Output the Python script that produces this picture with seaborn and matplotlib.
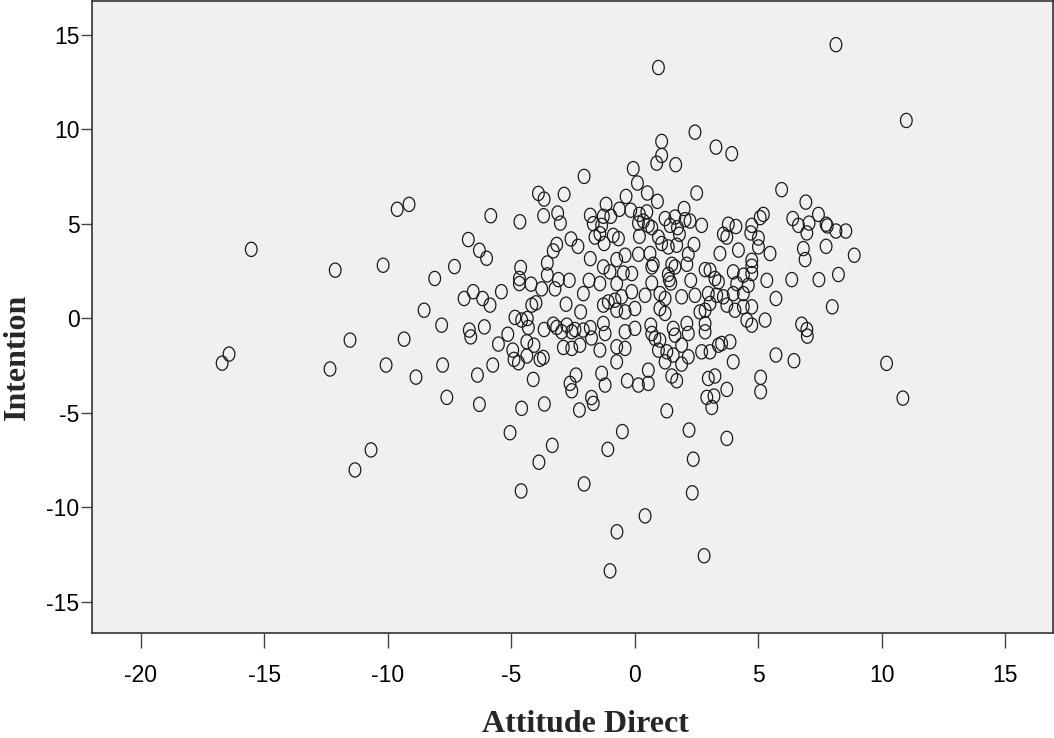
import numpy as np
import pandas as pd
import matplotlib
matplotlib.use("Agg")
import matplotlib.pyplot as plt
from matplotlib.path import Path
import seaborn as sns

x_label = "Attitude Direct"
y_label = "Intention"
x_ticks = [-20, -15, -10, -5, 0, 5, 10, 15]
y_ticks = [-15, -10, -5, 0, 5, 10, 15]

attitude = [
    -2.05, -3.9, -3.67, -2.86, -5.83, -4.65, -3.69, -3.12, -3.01, -1.8,
    -6.74, -6.29, -6.0, -7.3, -8.1, -3.16, -3.3, -2.58, -2.3, -3.54,
    -4.62, -3.54, -4.67, -4.67, -4.2, -3.09, -2.65, -1.8, -1.85, -6.54,
    -5.4, -3.77, -3.23,
    -6.91, -6.16, -5.86, -4.17, -4.0, -2.78, -2.19, -2.08, -7.82, -6.7,
    -6.64, -6.09, -4.85, -4.58, -4.35, -4.31, -5.14, -5.52, -4.37, -4.08,
    -4.94, -4.89, -4.71, -4.37, -3.84, -3.7, -3.67, -3.3, -3.16, -2.96,
    -2.75, -2.55, -2.42, -2.08, -1.8, -2.89, -2.55, -2.22, -1.75, -7.78,
    -6.37, -5.75, -4.11, -2.38, -2.62, -2.55, -7.61, -6.29, -4.58, -3.66,
    -2.24, -1.75, -5.05, -3.34, -3.88,
    2.44, 1.09, 3.29, 3.93, 1.09, 0.89, 1.66, -0.06, 0.11, 2.51,
    0.51, -0.35, 0.92, -1.16, -0.62, -0.16, 0.19, 0.49, -1.27, -0.97,
    2.0, 1.23, 1.63, 2.04, 2.24, 2.71, 0.15, 0.35, 0.55, 0.69,
    1.43, 1.73, 1.81, 3.79, 4.1, 3.59, 3.73, -1.68, -1.34, -1.41,
    -1.61, -1.24, -0.87, -0.66, 0.19, 0.96, 1.09, 1.36, 1.7, 2.4,
    3.45, 4.2, 2.17, 0.15, -0.39, -0.73, 0.62, 0.75, 0.69, 1.5,
    2.11, 1.63, 2.85, 3.05, 3.99, -1.27, -0.12, -1.0, -0.46, 1.36,
    1.4, 1.46, 2.27, 3.25, 3.39, 4.13, -1.41, -0.73, 0.69, -0.12,
    -1.27, -1.07, -0.8, -0.53, -0.73, -0.39, 0.01, 0.42, 1.02, 1.23,
    1.02, 1.23, 1.9, 2.44, 2.98, 3.32, 3.59, 3.99, 2.64, 2.85,
    3.05, 3.73, 4.06, -1.27, -1.2, -0.39, 0.01, 0.65, 0.69, 0.82,
    1.02, 1.56, 1.63, 2.11, 2.17, 2.85, 2.85, -1.41, -0.73, -0.39,
    0.96, 1.3, 1.56, 1.9, -0.73, 1.23, 1.9, 2.17, 2.71, 3.05,
    3.39, 3.52, 3.86, 3.99, -1.34, -1.2, 0.55, 0.55, 0.15, -0.3,
    1.5, 1.7, 2.98, 3.25, 3.73, 2.92, 3.21, 3.12, -1.68, 1.3,
    -0.5, 2.2, 3.73, -1.09, 2.37,
    5.95, 6.93, 5.21, 5.08, 4.74, 4.7, 6.4, 6.63, 7.06, 7.44,
    7.75, 7.8, 8.15, 8.55, 6.97, 5.01, 5.01, 5.48, 6.83, 6.9,
    7.75, 8.89, 4.74, 4.74, 4.74, 4.4, 5.35, 6.36, 7.46, 8.25,
    4.6,
    4.4, 4.4, 4.74, 4.54, 4.74, 5.28, 5.72, 8.0, 6.76, 6.97,
    6.99, 5.72, 6.45, 5.1, 5.1, 10.2,
    0.96, 8.15, 11.0, -15.53, -12.13, -10.19, -9.62, -9.14, -16.71, -16.43,
    -12.34, -11.53, -11.33, -10.68, -10.07, -9.34, -8.86, -8.53, -4.6, -2.05,
    -0.72, -1.0, 0.42, 2.33, 2.81, 10.86,
]

intention = [
    7.5, 6.6, 6.3, 6.55, 5.42, 5.1, 5.42, 5.56, 5.03, 5.44,
    4.16, 3.59, 3.17, 2.73, 2.1, 3.9, 3.56, 4.19, 3.8, 2.92,
    2.68, 2.29, 2.1, 1.83, 1.8, 2.04, 2.0, 3.15, 2.0, 1.4,
    1.4, 1.55, 1.55,
    1.04, 1.04, 0.69, 0.69, 0.81, 0.74, 0.33, 1.3, -0.37, -0.63,
    -0.99, -0.46, 0.04, -0.1, -0.02, -0.49, -0.85, -1.37, -1.25, -1.43,
    -1.69, -2.18, -2.36, -2.0, -2.18, -2.08, -0.6, -0.32, -0.49, -0.72,
    -0.37, -0.72, -0.6, -0.63, -0.5, -1.55, -1.6, -1.43, -1.05, -2.48,
    -3.01, -2.48, -3.24, -3.01, -3.45, -3.84, -4.19, -4.56, -4.77, -4.54,
    -4.86, -4.2, -6.06, -6.73, -7.62,
    9.84, 9.35, 9.05, 8.7, 8.61, 8.2, 8.12, 7.91, 7.15, 6.62,
    6.62, 6.44, 6.18, 6.02, 5.76, 5.71, 5.49, 5.62, 5.39, 5.39,
    5.8, 5.27, 5.35, 5.21, 5.14, 4.91, 5.03, 5.14, 4.91, 4.79,
    4.91, 4.79, 4.44, 4.97, 4.85, 4.44, 4.29, 5.0, 4.91, 4.47,
    4.29, 3.95, 4.38, 4.21, 4.33, 4.29, 3.95, 3.77, 3.86, 3.9,
    3.42, 3.6, 3.38, 3.38, 3.33, 3.1, 3.42, 2.85, 2.71, 2.85,
    2.85, 2.71, 2.57, 2.54, 2.45, 2.71, 2.36, 2.45, 2.39, 2.32,
    2.04, 1.86, 2.0, 2.1, 1.92, 1.83, 1.83, 1.83, 1.86, 1.4,
    0.69, 0.86, 0.95, 1.13, 0.42, 0.33, 0.51, 1.21, 1.3, 1.04,
    0.51, 0.25, 1.13, 1.21, 1.3, 1.21, 1.13, 1.3, 0.33, 0.42,
    0.78, 0.69, 0.42, -0.28, -0.81, -0.72, -0.54, -0.37, -0.81, -1.07,
    -1.16, -0.54, -0.9, -0.28, -0.81, -0.28, -0.72, -1.69, -1.51, -1.6,
    -1.69, -1.78, -1.95, -1.43, -2.31, -2.31, -2.43, -2.04, -1.78, -1.78,
    -1.43, -1.34, -1.25, -2.31, -2.92, -3.54, -2.75, -3.45, -3.54, -3.31,
    -3.06, -3.31, -3.19, -3.06, -3.77, -4.19, -4.12, -4.72, -4.51, -4.9,
    -6.0, -5.92, -6.36, -6.94, -7.46,
    6.8, 6.14, 5.49, 5.32, 4.91, 4.51, 5.27, 4.91, 5.03, 5.49,
    4.97, 4.88, 4.61, 4.61, 4.51, 4.24, 3.77, 3.42, 3.68, 3.1,
    3.8, 3.33, 3.06, 2.75, 2.36, 2.27, 2.0, 2.04, 2.04, 2.31,
    1.74,
    1.3, 0.6, 0.6, -0.1, -0.37, -0.1, 1.04, 0.6, -0.32, -0.6,
    -0.95, -1.95, -2.25, -3.13, -3.89, -2.39,
    13.26, 14.47, 10.46, 3.64, 2.54, 2.8, 5.76, 6.02, -2.38, -1.9,
    -2.69, -1.16, -8.03, -6.97, -2.48, -1.11, -3.12, 0.42, -9.14, -8.77,
    -11.3, -13.37, -10.46, -9.24, -12.57, -4.23,
]

df = pd.DataFrame({x_label: attitude, y_label: intention})

# SPSS-like upright ellipse marker
t = np.linspace(0, 2 * np.pi, 60)
ellipse = Path(np.column_stack([0.82 * np.cos(t), np.sin(t)]), closed=True)

sns.set_style("white")
plt.rcParams["font.family"] = ["Liberation Sans", "DejaVu Sans"]

fig = plt.figure(figsize=(10.54, 7.38), dpi=100)
ax = fig.add_axes([92 / 1054, 1 - 632.5 / 738, 960.5 / 1054, 631.5 / 738])
ax.set_facecolor("#F0F0F0")

sns.scatterplot(data=df, x=x_label, y=y_label, ax=ax, marker=ellipse, s=105,
                facecolor="none", edgecolor="#1a1a1a", linewidth=0.9, legend=False)

ax.set_xlim(-21.98, 16.92)
ax.set_ylim(-16.63, 16.78)
ax.set_xticks(x_ticks)
ax.set_yticks(y_ticks)
ax.set_xticklabels([str(v) for v in x_ticks])
ax.set_yticklabels([str(v) for v in y_ticks])

for sp in ax.spines.values():
    sp.set_visible(True)
    sp.set_color("#333333")
    sp.set_linewidth(1.2)

ax.tick_params(axis="x", direction="out", length=11, width=1, color="#444444",
               pad=12, labelsize=16.5, labelcolor="black", bottom=True)
ax.tick_params(axis="y", direction="out", length=8, width=1, color="#444444",
               pad=1, labelsize=16.5, labelcolor="black", left=True)

serif = ["Liberation Serif", "DejaVu Serif"]
ax.set_xlabel(x_label, family=serif, fontsize=23, fontweight="bold")
ax.set_ylabel(y_label, family=serif, fontsize=23, fontweight="bold")
ax.xaxis.set_label_coords(0.514, -0.1234)
ax.yaxis.set_label_coords(-0.078, 0.436)
ax.xaxis.label.set_va("top")
ax.yaxis.label.set_va("center")

fig.savefig("out.png", dpi=100, facecolor="white")
